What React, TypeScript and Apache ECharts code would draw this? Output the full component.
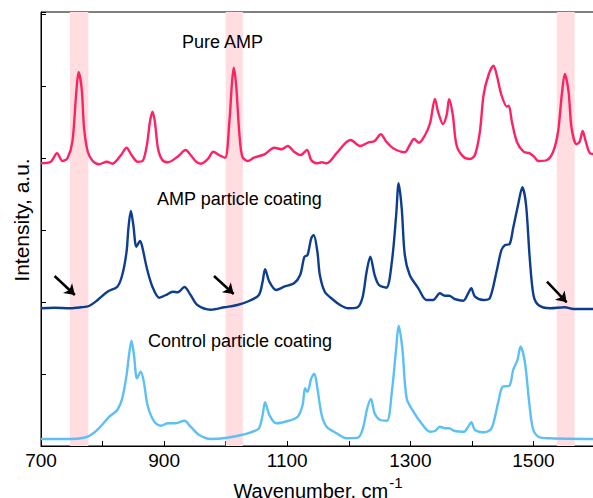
import React, { useEffect, useRef } from "react";
import * as echarts from "echarts";

const xTicks = [700, 800, 900, 1000, 1100, 1200, 1300, 1400, 1500, 1600];

const pureAmp: [number, number][] = [
  [700,282.7],[716,284.3],[726,292.7],[735,285],[743,287.7],[751,304.3],[757,351],[761,373.7],[766,357.7],[770,317.7],
  [776,294.3],[784,285],[794,281.7],[807,284.3],[816,282.3],[830,291],[839,298.3],[847,291],[857,284.3],[865,285],
  [872,301],[877,324.3],[881,334.3],[885,324.3],[890,297.7],[897,286],[906,283.7],[922,289.3],[935,296],[943,291],
  [952,284.3],[960,282.3],[971,287],[980,294.3],[989,291],[999,288.3],[1006,324.3],[1010,361],[1013,378.3],[1017,361],
  [1022,314.3],[1027,289.3],[1036,285],[1046,288.3],[1063,291.7],[1079,298.3],[1091,296.7],[1101,300],[1111,294.3],[1122,291],
  [1132,296],[1139,286],[1148,282.7],[1156,283.7],[1164,282.7],[1180,292.7],[1194,302.7],[1203,306],[1218,300],[1232,303.7],
  [1242,305],[1252,311.7],[1261,304.3],[1272,297.7],[1291,293.7],[1299,301],[1306,307],[1314,303.3],[1324,311],[1332,322.7],
  [1340,347],[1345,334.3],[1353,322],[1359,331],[1363,346.7],[1369,331],[1375,301],[1386,289.3],[1397,287],[1405,291],
  [1413,314.3],[1419,351],[1427,371],[1435,380.3],[1441,369.3],[1448,351],[1457,339.3],[1460,340.3],[1465,324.3],[1473,304.3],
  [1484,294.3],[1494,292.7],[1501,289.3],[1508,285],[1522,286],[1532,294.3],[1540,314.3],[1546,351],[1551,372],[1557,354.3],
  [1562,317.7],[1570,301.7],[1575,304.3],[1580,315],[1585,304.3],[1592,292.7],[1600,292]
];

const ampCoating: [number, number][] = [
  [700,137.7],[721,138.3],[748,137.7],[765,138.7],[778,140],[792,146],[808,154.3],[824,159.3],[832,171],[839,194.3],
  [842,217.7],[846,235],[850,221],[855,199.3],[861,205],[865,197.7],[872,177.7],[881,159.3],[892,148.3],[903,151],
  [914,154.3],[922,153.7],[933,159],[943,151],[954,141],[976,136.3],[998,138.7],[1019,141],[1038,145],[1054,151],
  [1060,164.3],[1064,176.7],[1071,164.3],[1082,156],[1095,159.3],[1111,162.7],[1121,171],[1128,189.3],[1133,191],[1139,207.7],
  [1143,211],[1149,194.3],[1153,171],[1161,154.3],[1175,146],[1186,141],[1199,137.7],[1213,138.3],[1222,147.7],[1229,174.3],
  [1235,189.3],[1242,171],[1249,161],[1261,158.3],[1270,184.3],[1277,231],[1281,262.7],[1286,237.7],[1291,191],[1299,171],
  [1313,157.7],[1326,146],[1337,146],[1348,152.7],[1356,150.3],[1363,150.3],[1372,147],[1386,145.3],[1394,152.7],[1399,157.7],
  [1405,149.3],[1419,146],[1429,147.7],[1440,174.3],[1448,196],[1454,201],[1461,201.7],[1467,217.7],[1475,241],[1482,258.7],
  [1488,241],[1494,187.7],[1500,151],[1508,141],[1527,137.7],[1551,138.7],[1565,137],[1600,137]
];

const controlCoating: [number, number][] = [
  [700,7],[748,7],[770,8.3],[781,11],[794,17.7],[811,29.3],[824,36],[832,47.7],[839,71],[843,91],
  [847,105.3],[851,91],[856,67.7],[862,74.3],[867,64.3],[873,41],[884,24.3],[895,20.3],[906,22.7],[919,22.7],
  [933,25.3],[943,19.3],[957,11],[976,7],[1003,8.3],[1025,11],[1041,13.7],[1054,17.7],[1060,31],[1064,43.7],
  [1071,31],[1082,22.7],[1101,25],[1117,29.3],[1125,41],[1129,57.7],[1133,54.3],[1139,67.7],[1144,72.3],[1149,57.7],
  [1156,31],[1164,19.3],[1180,12.7],[1196,7.7],[1215,8.3],[1223,17.7],[1230,37.7],[1236,47],[1242,32.7],[1251,26],
  [1262,25.3],[1270,54.3],[1277,97.7],[1281,120.3],[1287,97.7],[1294,47.7],[1305,34.3],[1318,22.7],[1332,14.3],[1340,15],
  [1348,19.3],[1356,17.7],[1363,17.7],[1372,15],[1387,14.3],[1394,19.3],[1399,23.7],[1405,16],[1421,13.7],[1432,17.7],
  [1443,44.3],[1450,59.3],[1461,60.3],[1467,76],[1474,86],[1479,99.3],[1486,84.3],[1493,44.3],[1499,17.7],[1508,9.3],
  [1527,7.7],[1600,7]
];

const bands: [number, number][] = [[747, 777], [1000, 1028], [1538, 1567]];

const arrows: [[number, number], [number, number]][] = [
  [[722, 170], [755, 151]],
  [[981, 170], [1013, 152]],
  [[1522, 164.3], [1554, 143.7]],
];

const labels = ["Pure AMP", "AMP particle coating", "Control particle coating"];

const FONT = "'Liberation Sans', Arial, sans-serif";

export default function App() {
  const ref = useRef<HTMLDivElement>(null);
  useEffect(() => {
    if (!ref.current) return;
    const chart = echarts.init(ref.current, undefined, { renderer: "svg" });
    const lineSeries = (name: string, data: [number, number][], color: string) => ({
      name,
      type: "line",
      data,
      showSymbol: false,
      smooth: 0.3,
      z: 3,
      lineStyle: { color, width: 2.4 },
      emphasis: { disabled: true },
    });
    const txt = (text: string, x: number, y: number) => ({
      type: "text",
      x,
      y,
      z: 100,
      style: { text, fontSize: 18, fontFamily: FONT, fill: "#000", align: "left", verticalAlign: "middle" },
    });
    chart.setOption({
      animation: false,
      textStyle: { fontFamily: FONT },
      grid: {
        left: 41,
        top: 12,
        right: -2,
        bottom: 52,
        show: true,
        borderColor: "#000",
        borderWidth: 1,
        containLabel: false,
        outerBoundsMode: "none",
      },
      xAxis: {
        type: "value",
        min: xTicks[0],
        max: xTicks[xTicks.length - 1],
        interval: 100,
        name: "{main|Wavenumber, cm}{sup|-1}",
        nameLocation: "middle",
        nameGap: 21,
        nameTextStyle: {
          color: "#000",
          fontSize: 20,
          fontFamily: FONT,
          rich: {
            main: { fontSize: 20, fontFamily: FONT, color: "#000", verticalAlign: "bottom", lineHeight: 20 },
            sup: { fontSize: 15, fontFamily: FONT, color: "#000", verticalAlign: "bottom", lineHeight: 9, padding: [0, 0, 11, 1] },
          },
        },
        axisLine: { show: true, lineStyle: { color: "#000", width: 1 } },
        axisTick: { show: true, inside: true, length: 5, lineStyle: { color: "#000" } },
        axisLabel: {
          color: "#000",
          fontSize: 19,
          fontFamily: FONT,
          margin: 5,
          formatter: (v: number) => ((v - 700) % 200 === 0 && v < 1600 ? String(v) : ""),
        },
        splitLine: { show: false },
      },
      yAxis: {
        type: "value",
        min: 0,
        max: 434,
        interval: 72,
        axisLine: { show: true, lineStyle: { color: "#000", width: 1 } },
        axisTick: { show: true, inside: true, length: 5, lineStyle: { color: "#000" } },
        axisLabel: { show: false },
        splitLine: { show: false },
      },
      graphic: [
        {
          type: "text",
          x: 21,
          y: 220,
          z: 100,
          rotation: Math.PI / 2,
          style: { text: "Intensity, a.u.", fontSize: 21, fontFamily: FONT, fill: "#000", align: "center", verticalAlign: "middle" },
        },
        txt(labels[0], 182, 42),
        txt(labels[1], 157, 198.5),
        txt(labels[2], 148, 341),
      ],
      series: [
        {
          name: "bands",
          type: "line",
          data: [],
          z: 1,
          markArea: {
            silent: true,
            itemStyle: { color: "#ffdde1", opacity: 1 },
            data: bands.map(([a, b]) => [{ xAxis: a }, { xAxis: b }]),
          },
        },
        lineSeries(labels[0], pureAmp, "#ff2263"),
        lineSeries(labels[1], ampCoating, "#0e3d8f"),
        lineSeries(labels[2], controlCoating, "#5cc0f6"),
        {
          name: "arrows",
          type: "line",
          data: [],
          z: 4,
          markLine: {
            silent: true,
            symbol: ["none", "arrow"],
            symbolSize: 10,
            label: { show: false },
            lineStyle: { color: "#000", width: 2.5, type: "solid" },
            data: arrows.map(([s, e]) => [{ coord: s }, { coord: e }]),
          },
        },
      ],
    });
    return () => chart.dispose();
  }, []);
  return (
    <div
      ref={ref}
      style={{ position: "absolute", left: 0, top: 0, width: 593, height: 498, background: "#fff" }}
    />
  );
}
